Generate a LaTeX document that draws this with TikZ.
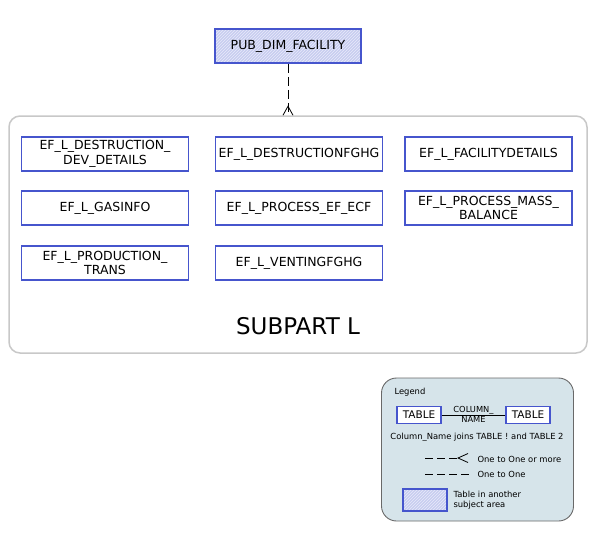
\documentclass[tikz,border=0pt]{standalone}
\usepackage{fontspec}
\setmainfont{DejaVu Sans}
\usetikzlibrary{patterns}
\definecolor{tableblue}{RGB}{70,85,205}
\definecolor{hatchfill}{RGB}{200,205,240}
\definecolor{hatchline}{RGB}{232,234,250}
\definecolor{framegray}{RGB}{200,200,200}
\definecolor{legendfill}{RGB}{214,228,234}
\definecolor{legendgray}{RGB}{105,105,105}
\begin{document}
\begin{tikzpicture}[x=1pt, y=-1pt,
    tbl/.style={rectangle, draw=tableblue, line width=1.6pt, inner sep=0pt,
                minimum width=167pt, minimum height=34pt, align=center,
                font=\fontsize{12.5}{14.5}\selectfont},
    table/.style={tbl, fill=white},
    othertable/.style={tbl, preaction={fill=hatchfill},
                       pattern=north east lines, pattern color=hatchline},
    smalltable/.style={table, minimum width=44pt, minimum height=17pt,
                       font=\fontsize{10.5}{12}\selectfont},
    container/.style={rectangle, draw=framegray, line width=1.5pt, fill=white,
                      rounded corners=11pt, minimum width=578pt, minimum height=237pt},
    legendbox/.style={rectangle, draw=legendgray, line width=0.9pt, fill=legendfill,
                      rounded corners=15pt, minimum width=192pt, minimum height=143pt},
    relation/.style={line width=0.8pt, dash pattern=on 9pt off 4pt},
    sample/.style={line width=0.8pt, dash pattern=on 8pt off 4pt},
    crowfoot/.style={line width=0.8pt},
    small/.style={font=\fontsize{8.4}{10.5}\selectfont}
]
\useasboundingbox (0,0) rectangle (591,541);

% subject area
\node (subpart) [container] at (298,234.5) {};
\node (subpartlabel) [font=\fontsize{23}{27}\selectfont] at (298,326) {SUBPART L};

\node (pub) [othertable, minimum width=146pt] at (288,46) {PUB\_DIM\_FACILITY};

\node (destdev) [table] at (105,154) {EF\_L\_DESTRUCTION\_\\DEV\_DETAILS};
\node (destfghg) [table] at (299,154) {EF\_L\_DESTRUCTIONFGHG};
\node (facdetails) [table] at (488.5,154) {EF\_L\_FACILITYDETAILS};
\node (gasinfo) [table] at (105,208) {EF\_L\_GASINFO};
\node (processecf) [table] at (299,208) {EF\_L\_PROCESS\_EF\_ECF};
\node (processmass) [table] at (488.5,208) {EF\_L\_PROCESS\_MASS\_\\BALANCE};
\node (prodtrans) [table] at (105,263) {EF\_L\_PRODUCTION\_\\TRANS};
\node (ventfghg) [table] at (299,263) {EF\_L\_VENTINGFGHG};

\coordinate (foot) at (pub.south |- subpart.north);
\draw [relation] (pub) -- (foot);
\draw [crowfoot] ([xshift=-5pt]foot) -- ([yshift=9pt]foot) -- ([xshift=5pt]foot);

% legend
\node (legend) [legendbox] at (477.5,449.5) {};
\node (legendtitle) [small, anchor=west] at (391,392) {Legend};
\node (tableA) [smalltable] at (419,415) {TABLE};
\node (tableB) [smalltable] at (528,415) {TABLE};
\draw [line width=0.8pt] (tableA) -- (tableB)
    node [midway, above, inner sep=0.5pt, font=\fontsize{8.3}{9}\selectfont] {COLUMN\_}
    node [midway, below, inner sep=1pt, font=\fontsize{8.3}{9}\selectfont] {NAME};
\node (joins) [small] at (477,437) {Column\_Name joins TABLE ! and TABLE 2};

\coordinate (manystart) at (425,458);
\coordinate (manyend) at (468,458);
\draw [sample] (manystart) -- ([xshift=-10pt]manyend);
\draw [crowfoot] ([yshift=4.5pt]manyend) -- ([xshift=-10pt]manyend) -- ([yshift=-4.5pt]manyend);
\node (manytext) [small, anchor=west] at (474,459) {One to One or more};

\coordinate (onestart) at (425,474);
\coordinate (oneend) at (470,474);
\draw [sample] (onestart) -- (oneend);
\node (onetext) [small, anchor=west] at (474,474) {One to One};

\node (othersample) [othertable, minimum width=44pt, minimum height=22pt] at (425,500) {};
\node (othertext) [small, anchor=west, align=left] at (450,500) {Table in another\\subject area};
\end{tikzpicture}
\end{document}
